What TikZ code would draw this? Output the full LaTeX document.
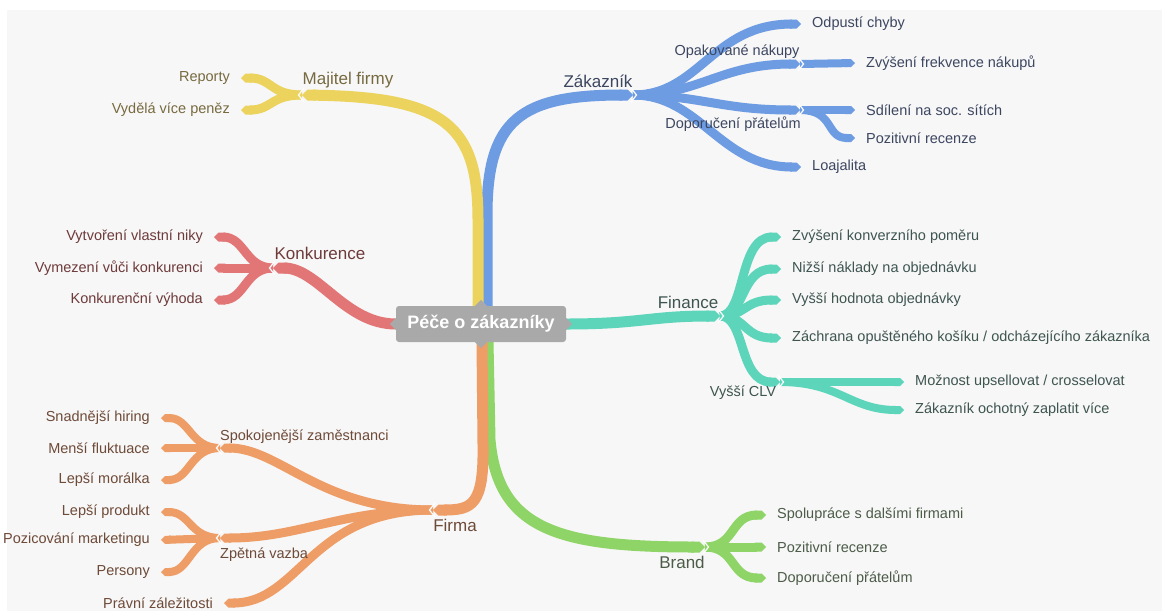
\documentclass[tikz,border=0pt]{standalone}
\usepackage{fontspec}
\setmainfont{Liberation Sans}
\usetikzlibrary{arrows.meta,calc,backgrounds}
\definecolor{bgc}{HTML}{F7F7F7}
\definecolor{cyel}{HTML}{EBD35E}
\definecolor{cblu}{HTML}{6E9CE2}
\definecolor{cteal}{HTML}{5DD5BA}
\definecolor{cred}{HTML}{E27677}
\definecolor{cora}{HTML}{EE9D66}
\definecolor{cgrn}{HTML}{8ED466}
\definecolor{tyel}{HTML}{776A40}
\definecolor{tblu}{HTML}{3C4660}
\definecolor{tteal}{HTML}{3E5550}
\definecolor{tred}{HTML}{6E3A3A}
\definecolor{tora}{HTML}{6E4A38}
\definecolor{tgrn}{HTML}{4C5C48}
\definecolor{cgray}{HTML}{A9A9A9}
\tikzset{
  ribbon/.style={line width=#1,-{Triangle Cap[]}},
  ribbon/.default=8pt,
  leaf/.style={font=\fontsize{14.5}{17}\selectfont, inner xsep=11pt, inner ysep=1pt},
  leafL/.style={leaf, anchor=west},
  leafR/.style={leaf, anchor=east},
  blabel/.style={font=\fontsize{17}{20}\selectfont, inner sep=0pt},
  notch/.pic={\draw[white, line width=1.2pt, line join=miter] (-2,-7) -- (3.5,0) -- (-2,7);},
  rootbox/.style={fill=cgray, text=white, rounded corners=3pt, minimum width=170pt,
     minimum height=36pt, inner sep=0pt, font=\fontsize{18}{22}\selectfont\bfseries}
}
\begin{document}
\begin{tikzpicture}[x=1pt,y=-1pt]
\begin{scope}[on background layer]
\fill[white] (0,0) rectangle (1166,611);
\fill[bgc] (7,10) rectangle (1162,611);
\end{scope}
\useasboundingbox (0,0) rectangle (1166,611);

% root
\node[rootbox] (root) at (481,324) {Péče o zákazníky};
\fill[cgray] ($(root.north)+(-6,0)$) -- ($(root.north)+(0,-6)$) -- ($(root.north)+(6,0)$) -- cycle;
\fill[cgray] ($(root.south)+(-6,0)$) -- ($(root.south)+(0,6)$) -- ($(root.south)+(6,0)$) -- cycle;
\fill[cgray] ($(root.west)+(0,-6)$) -- ($(root.west)+(-6,0)$) -- ($(root.west)+(0,6)$) -- cycle;
\fill[cgray] ($(root.east)+(0,-6)$) -- ($(root.east)+(6,0)$) -- ($(root.east)+(0,6)$) -- cycle;

% junction coordinates
\coordinate (jMaj) at (302,95);
\coordinate (jZak) at (633,95);
\coordinate (jOpak) at (800,64);
\coordinate (jDop) at (800,110);
\coordinate (jFin) at (720,316);
\coordinate (jCLV) at (780,382);
\coordinate (jKon) at (273,268);
\coordinate (jFir) at (433,510);
\coordinate (jSpo) at (220,448);
\coordinate (jZpe) at (220,538);
\coordinate (jBra) at (705,547);

% labels of branches
\node[blabel, text=tyel] (lMaj) at (348,80) {Majitel firmy};
\node[blabel, text=tblu] (lZak) at (598,81) {Zákazník};
\node[blabel, text=tred] (lKon) at (320,253) {Konkurence};
\node[blabel, text=tteal] (lFin) at (688,302) {Finance};
\node[blabel, text=tora] (lFir) at (455,525) {Firma};
\node[blabel, text=tgrn] (lBra) at (682,562) {Brand};
\node[leaf, inner sep=0pt, text=tblu] (lOpak) at (737,52) {Opakované nákupy};
\node[leaf, inner sep=0pt, text=tblu] (lDop) at (733,124) {Doporučení přátelům};
\node[leaf, inner sep=0pt, text=tteal] (lCLV) at (743,393) {Vyšší CLV};
\node[leaf, inner sep=0pt, text=tora, anchor=west] (lSpo) at (220,437) {Spokojenější zaměstnanci};
\node[leaf, inner sep=0pt, text=tora, anchor=west] (lZpe) at (220,555) {Zpětná vazba};

% leaves
\node[leafR, text=tyel] (Rep) at (241,78) {Reporty};
\node[leafR, text=tyel] (Vyd) at (241,110) {Vydělá více peněz};

\node[leafL, text=tblu] (Odp) at (801,24) {Odpustí chyby};
\node[leafL, text=tblu] (Zvy) at (855,63) {Zvýšení frekvence nákupů};
\node[leafL, text=tblu] (Sdi) at (855,110) {Sdílení na soc. sítích};
\node[leafL, text=tblu] (Poz) at (855,138) {Pozitivní recenze};
\node[leafL, text=tblu] (Loa) at (801,167) {Loajalita};

\node[leafL, text=tteal] (Zvk) at (781,237) {Zvýšení konverzního poměru};
\node[leafL, text=tteal] (Niz) at (781,269) {Nižší náklady na objednávku};
\node[leafL, text=tteal] (Vyh) at (781,300) {Vyšší hodnota objednávky};
\node[leafL, text=tteal] (Zach) at (781,338) {Záchrana opuštěného košíku / odcházejícího zákazníka};
\node[leafL, text=tteal] (Moz) at (904,382) {Možnost upsellovat / crosselovat};
\node[leafL, text=tteal] (Ocho) at (904,410) {Zákazník ochotný zaplatit více};

\node[leafR, text=tred] (Vyt) at (214,237) {Vytvoření vlastní niky};
\node[leafR, text=tred] (Vym) at (214,268) {Vymezení vůči konkurenci};
\node[leafR, text=tred] (Kvy) at (214,300) {Konkurenční výhoda};

\node[leafR, text=tora] (Sna) at (161,418) {Snadnější hiring};
\node[leafR, text=tora] (Men) at (161,448) {Menší fluktuace};
\node[leafR, text=tora] (Mor) at (161,480) {Lepší morálka};
\node[leafR, text=tora] (Pro) at (161,512) {Lepší produkt};
\node[leafR, text=tora] (Pzm) at (161,540) {Pozicování marketingu};
\node[leafR, text=tora] (Per) at (161,572) {Persony};
\node[leafR, text=tora] (Pra) at (224,603) {Právní záležitosti};

\node[leafL, text=tgrn] (Spo) at (766,515) {Spolupráce s dalšími firmami};
\node[leafL, text=tgrn] (Pzr) at (766,547) {Pozitivní recenze};
\node[leafL, text=tgrn] (Dpr) at (766,578) {Doporučení přátelům};

\begin{scope}[on background layer]
% main branches
\draw[ribbon=11pt, cblu] ([xshift=6pt]root.north) -- (487,215) .. controls (487,120) and (520,95) .. (jZak);
\draw[ribbon=11pt, cyel] ([xshift=-3pt]root.north) -- (478,220) .. controls (478,125) and (445,97) .. (jMaj);
\draw[ribbon=11pt, cred] (root.west) .. controls (345,324) and (318,268) .. (jKon);
\draw[ribbon=11pt, cteal] (root.east) .. controls (640,324) and (650,316) .. (jFin);
\draw[ribbon=11pt, cgrn] ([xshift=7pt]root.south) -- (490,440) .. controls (498,530) and (560,547) .. (jBra);
\draw[ribbon=11pt, cora] ([xshift=1pt]root.south) -- (483,445) .. controls (484,505) and (472,510) .. (jFir);

% yellow
\draw[ribbon=9pt, cyel] (jMaj) .. controls (270,95) and (272,78) .. (Rep.east);
\draw[ribbon=9pt, cyel] (jMaj) .. controls (270,95) and (272,110) .. (Vyd.east);

% blue
\draw[ribbon=9pt, cblu] (jZak) .. controls (700,95) and (712,24) .. (Odp.west);
\draw[ribbon=9pt, cblu] (jZak) .. controls (700,95) and (720,64) .. (jOpak);
\draw[ribbon=9pt, cblu] (jZak) .. controls (700,95) and (720,110) .. (jDop);
\draw[ribbon=9pt, cblu] (jZak) .. controls (700,95) and (720,167) .. (Loa.west);
\draw[ribbon=8pt, cblu] (jOpak) -- (Zvy.west);
\draw[ribbon=8pt, cblu] (jDop) -- (Sdi.west);
\draw[ribbon=8pt, cblu] (jDop) .. controls (835,110) and (825,138) .. (Poz.west);

% teal
\draw[ribbon=9pt, cteal] (jFin) .. controls (746,316) and (738,237) .. (Zvk.west);
\draw[ribbon=9pt, cteal] (jFin) .. controls (746,316) and (740,269) .. (Niz.west);
\draw[ribbon=9pt, cteal] (jFin) .. controls (746,316) and (744,300) .. (Vyh.west);
\draw[ribbon=9pt, cteal] (jFin) .. controls (746,316) and (744,338) .. (Zach.west);
\draw[ribbon=9pt, cteal] (jFin) .. controls (746,316) and (738,382) .. (jCLV);
\draw[ribbon=8pt, cteal] (jCLV) -- (Moz.west);
\draw[ribbon=8pt, cteal] (jCLV) .. controls (840,382) and (850,410) .. (Ocho.west);

% red
\draw[ribbon=9pt, cred] (jKon) .. controls (245,268) and (245,237) .. (Vyt.east);
\draw[ribbon=9pt, cred] (jKon) -- (Vym.east);
\draw[ribbon=9pt, cred] (jKon) .. controls (245,268) and (245,300) .. (Kvy.east);

% orange
\draw[ribbon=9pt, cora] (jFir) .. controls (320,510) and (280,448) .. (jSpo);
\draw[ribbon=9pt, cora] (jFir) .. controls (340,510) and (300,538) .. (jZpe);
\draw[ribbon=9pt, cora] (jFir) .. controls (310,510) and (300,603) .. (Pra.east);
\draw[ribbon=8pt, cora] (jSpo) .. controls (190,448) and (190,418) .. (Sna.east);
\draw[ribbon=8pt, cora] (jSpo) -- (Men.east);
\draw[ribbon=8pt, cora] (jSpo) .. controls (190,448) and (190,480) .. (Mor.east);
\draw[ribbon=8pt, cora] (jZpe) .. controls (190,538) and (190,512) .. (Pro.east);
\draw[ribbon=8pt, cora] (jZpe) -- (Pzm.east);
\draw[ribbon=8pt, cora] (jZpe) .. controls (190,538) and (190,572) .. (Per.east);

% green
\draw[ribbon=9pt, cgrn] (jBra) .. controls (736,547) and (730,515) .. (Spo.west);
\draw[ribbon=9pt, cgrn] (jBra) -- (Pzr.west);
\draw[ribbon=9pt, cgrn] (jBra) .. controls (736,547) and (730,578) .. (Dpr.west);

% notches
\pic at (jZak) {notch};
\pic at (jOpak) {notch};
\pic at (jDop) {notch};
\pic at (jFin) {notch};
\pic at (jCLV) {notch};
\pic at (jBra) {notch};
\pic[xscale=-1] at (jMaj) {notch};
\pic[xscale=-1] at (jKon) {notch};
\pic[xscale=-1] at (jFir) {notch};
\pic[xscale=-1] at (jSpo) {notch};
\pic[xscale=-1] at (jZpe) {notch};
\end{scope}
\end{tikzpicture}
\end{document}
